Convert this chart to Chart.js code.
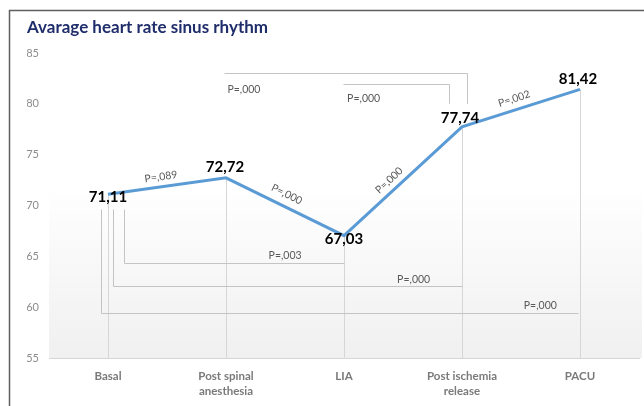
<!DOCTYPE html>
<html>
<head>
<meta charset="utf-8">
<script src="https://cdn.jsdelivr.net/npm/chart.js@4.4.0/dist/chart.umd.min.js"></script>
<style>
  html, body { margin: 0; padding: 0; background: #fff; }
  #chart { display: block; }
</style>
</head>
<body>
<canvas id="chart" width="644" height="406"></canvas>
<script>
// values
const categories = ['Basal', ['Post spinal', 'anesthesia'], 'LIA', ['Post ischemia', 'release'], 'PACU'];
const heartRate = [71.11, 72.72, 67.03, 77.74, 81.42];
const yTicks = [55, 60, 65, 70, 75, 80, 85];

// p value written on each step of the line
const stepP = ['P=,089', 'P=,000', 'P=,000', 'P=,002'];

// p values of the brackets (from point -> to point)
const pairFrom = [0, 0, 0, 1, 2];
const pairTo = [2, 3, 4, 3, 3];
const pairP = ['P=,003', 'P=,000', 'P=,000', 'P=,000', 'P=,000'];

// --- placement of the annotations (not data) ---
// data label offsets in px
const valueDx = [0, -1, 0, -2, -2];
const valueDy = [3, -11, 3, -9, -10];
// step labels: fraction along segment, distance above it
const stepT = [0.46, 0.47, 0.44, 0.47];
const stepOff = [10, 12, 10, 11];
// brackets: level on the y scale, x shift of both ends, vertical leg
const pairLevel = [64.34, 62.08, 59.42, 83.02, 81.94];
const pairDxFrom = [16, 5, -7, -2, -1];
const pairDxTo = [0, 0, -2, 5, -13];
const pairLegFrom = [69.6, 69.6, 69.6, null, null];  // leg at the left end, from this value
const pairLegTo = [null, null, null, 80.0, 80.0];    // leg at the right end, down to this value
const pairLabelT = [0.73, 0.86, 0.92, 0.08, 0.19];
const pairLabelDy = [-8, -7, -8, 16, 14];

const FONT = 'Lato, "Open Sans", sans-serif';

function fmt(v) {
  return v.toFixed(2).replace('.', ',');
}

const decor = {
  id: 'decor',
  beforeDraw(chart) {
    const ctx = chart.ctx;
    // thin frame on the left and top
    ctx.save();
    ctx.strokeStyle = '#5f5f5f';
    ctx.lineWidth = 1.5;
    ctx.beginPath();
    ctx.moveTo(9.5, 406);
    ctx.lineTo(9.5, 10.5);
    ctx.lineTo(644, 10.5);
    ctx.stroke();
    ctx.restore();
  },
  beforeDatasetsDraw(chart) {
    const { ctx, chartArea: a, scales: { x, y } } = chart;
    ctx.save();
    // faint grey shading toward the bottom of the plot
    const gTop = y.getPixelForValue(72);
    const g = ctx.createLinearGradient(0, gTop, 0, a.bottom);
    g.addColorStop(0, 'rgba(240,240,240,0)');
    g.addColorStop(1, 'rgba(240,240,240,1)');
    ctx.fillStyle = g;
    ctx.fillRect(a.left, gTop, a.right - a.left + 3, a.bottom - gTop);

    // drop lines from every point
    ctx.strokeStyle = '#d6d6d6';
    ctx.lineWidth = 1;
    heartRate.forEach((v, i) => {
      const px = Math.round(x.getPixelForValue(i)) + 0.5;
      ctx.beginPath();
      ctx.moveTo(px, y.getPixelForValue(v));
      ctx.lineTo(px, a.bottom);
      ctx.stroke();
    });

    // brackets
    ctx.strokeStyle = '#c4c4c4';
    ctx.fillStyle = '#595959';
    ctx.font = '10.5px ' + FONT;
    ctx.textAlign = 'center';
    ctx.textBaseline = 'middle';
    pairFrom.forEach((f, k) => {
      const x0 = Math.round(x.getPixelForValue(f) + pairDxFrom[k]) + 0.5;
      const x1 = Math.round(x.getPixelForValue(pairTo[k]) + pairDxTo[k]) + 0.5;
      const yl = Math.round(y.getPixelForValue(pairLevel[k])) + 0.5;
      ctx.beginPath();
      if (pairLegFrom[k] !== null) {
        ctx.moveTo(x0, y.getPixelForValue(pairLegFrom[k]));
        ctx.lineTo(x0, yl);
      } else {
        ctx.moveTo(x0, yl);
      }
      ctx.lineTo(x1, yl);
      if (pairLegTo[k] !== null) ctx.lineTo(x1, y.getPixelForValue(pairLegTo[k]));
      ctx.stroke();
      ctx.fillText(pairP[k], x0 + (x1 - x0) * pairLabelT[k], yl + pairLabelDy[k]);
    });
    ctx.restore();
  },
  afterDatasetsDraw(chart) {
    const { ctx, scales: { x, y } } = chart;
    ctx.save();
    ctx.textAlign = 'center';
    ctx.textBaseline = 'middle';

    // p values along the line segments
    ctx.fillStyle = '#595959';
    ctx.font = '10.5px ' + FONT;
    stepP.forEach((txt, i) => {
      const x0 = x.getPixelForValue(i), y0 = y.getPixelForValue(heartRate[i]);
      const x1 = x.getPixelForValue(i + 1), y1 = y.getPixelForValue(heartRate[i + 1]);
      const ang = Math.atan2(y1 - y0, x1 - x0);
      const t = stepT[i];
      const px = x0 + (x1 - x0) * t + Math.sin(ang) * stepOff[i];
      const py = y0 + (y1 - y0) * t - Math.cos(ang) * stepOff[i];
      ctx.save();
      ctx.translate(px, py);
      ctx.rotate(ang);
      ctx.fillText(txt, 0, 0);
      ctx.restore();
    });

    // values
    ctx.fillStyle = '#000';
    ctx.font = 'bold 15px ' + FONT;
    heartRate.forEach((v, i) => {
      ctx.fillText(fmt(v), x.getPixelForValue(i) + valueDx[i], y.getPixelForValue(v) + valueDy[i]);
    });
    ctx.restore();
  }
};

const ctx = document.getElementById('chart').getContext('2d');
new Chart(ctx, {
  type: 'line',
  data: {
    labels: categories,
    datasets: [{
      label: 'Heart rate',
      data: heartRate,
      borderColor: '#5b9bd5',
      borderWidth: 3,
      pointRadius: 0,
      tension: 0,
      fill: false,
      clip: false
    }]
  },
  options: {
    responsive: false,
    animation: false,
    devicePixelRatio: 1,
    layout: { padding: { left: 27, right: 5, top: 0, bottom: 0 } },
    plugins: {
      legend: { display: false },
      tooltip: { enabled: false },
      title: {
        display: true,
        text: 'Avarage heart rate sinus rhythm',
        align: 'start',
        color: '#1f2d6b',
        font: { family: FONT, size: 17, weight: 'bold' },
        padding: { top: 17, bottom: 15.6 }
      }
    },
    scales: {
      x: {
        offset: true,
        grid: { display: false, drawTicks: false },
        border: { display: true, color: '#d6d6d6', width: 1 },
        ticks: {
          autoSkip: false,
          maxRotation: 0,
          padding: 11,
          color: '#7a7a7a',
          font: { family: FONT, size: 11.5, weight: 'bold', lineHeight: 1.3 }
        },
        afterFit(s) { s.height = 48; }
      },
      y: {
        min: 55,
        max: 85,
        grid: { display: false, drawTicks: false },
        border: { display: false },
        afterBuildTicks(s) { s.ticks = yTicks.map(v => ({ value: v })); },
        ticks: {
          padding: 10,
          color: '#8c8c8c',
          font: { family: FONT, size: 11 }
        },
        afterFit(s) { s.width = 22; }
      }
    }
  },
  plugins: [decor]
});
</script>
</body>
</html>
